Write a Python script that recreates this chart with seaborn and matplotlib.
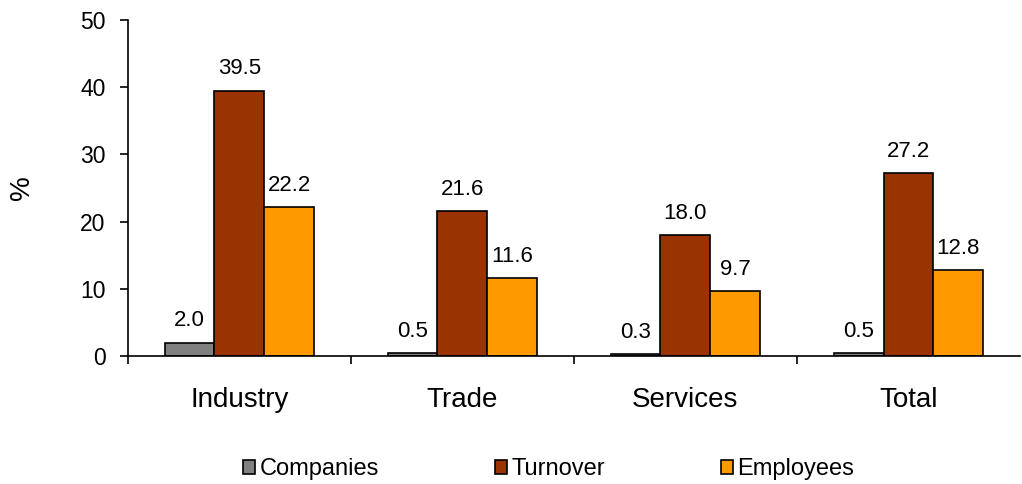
import matplotlib
matplotlib.use("Agg")
import matplotlib.pyplot as plt
import seaborn as sns
import pandas as pd
from matplotlib.ticker import FixedLocator
from matplotlib.patches import Patch

categories = ["Industry", "Trade", "Services", "Total"]
series = ["Companies", "Turnover", "Employees"]
companies = [2.0, 0.5, 0.3, 0.5]
turnover = [39.5, 21.6, 18.0, 27.2]
employees = [22.2, 11.6, 9.7, 12.8]
colors = ["#808080", "#993300", "#FF9900"]

rows = []
for name, vals in zip(series, [companies, turnover, employees]):
    for c, v in zip(categories, vals):
        rows.append({"cat": c, "series": name, "val": v})
df = pd.DataFrame(rows)

sns.set_style("white")
plt.rcParams["font.family"] = ["Liberation Sans", "DejaVu Sans"]
plt.rcParams["text.color"] = "black"
plt.rcParams["axes.labelcolor"] = "black"
plt.rcParams["xtick.color"] = "black"
plt.rcParams["ytick.color"] = "black"

fig = plt.figure(figsize=(10.22, 4.84), dpi=100)
ax = fig.add_axes([0.125, 0.2645, 0.873, 0.6942])

sns.barplot(data=df, x="cat", y="val", hue="series", order=categories,
            hue_order=series, palette=colors, edgecolor="black", linewidth=1.2,
            width=0.67, gap=0, ax=ax, legend=False, errorbar=None, saturation=1)

for cont in ax.containers:
    ax.bar_label(cont, fmt="%.1f", padding=8, fontsize=16, color="black")

ax.set_ylim(0, 50)
ax.set_xlim(-0.5, 3.5)
ax.set_yticks(range(0, 51, 10))
ax.set_xlabel("")
ax.set_ylabel("%", fontsize=20, color="black", va="center")
ax.yaxis.set_label_coords(-0.119, 0.5)

for s in ["top", "right"]:
    ax.spines[s].set_visible(False)
for s in ["left", "bottom"]:
    ax.spines[s].set_color("black")
    ax.spines[s].set_linewidth(1.2)

ax.tick_params(axis="y", direction="out", length=6, width=1.2, color="black",
               labelsize=16.5, pad=10, left=True, labelcolor="black")
ax.tick_params(axis="x", which="major", length=0, labelsize=20, pad=22,
               labelcolor="black")
ax.xaxis.set_minor_locator(FixedLocator([-0.5, 0.5, 1.5, 2.5]))
ax.tick_params(axis="x", which="minor", direction="out", length=6, width=1.2,
               color="black", bottom=True)

handles = [Patch(facecolor=c, edgecolor="black", linewidth=1.2) for c in colors]
fig.legend(handles, series, loc="center", bbox_to_anchor=(0.537, 0.03), ncol=3,
           frameon=False, fontsize=17, handlelength=0.5, handleheight=0.5,
           handletextpad=0.2, columnspacing=4.9)

fig.savefig("out.png", dpi=100)
